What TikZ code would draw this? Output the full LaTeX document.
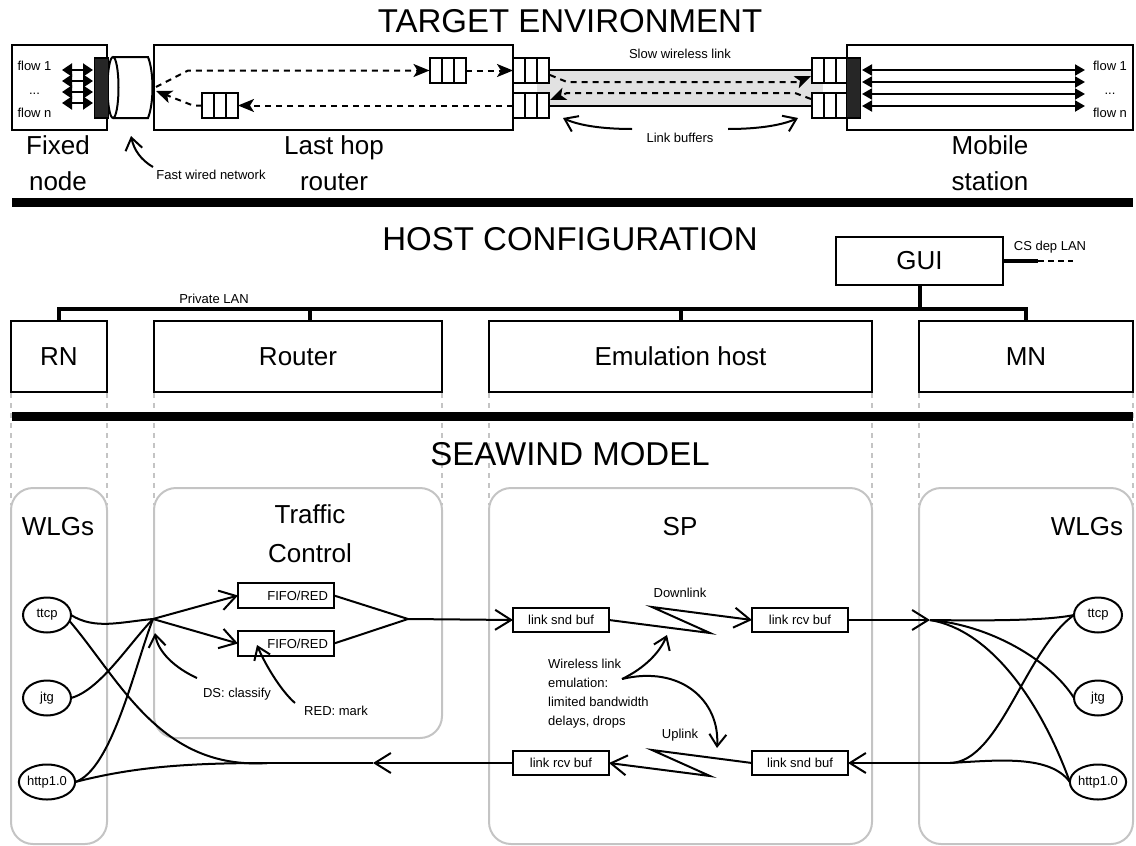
\documentclass[tikz,border=0pt]{standalone}
\usepackage{fontspec}
\setmainfont{Liberation Sans}
\usetikzlibrary{arrows.meta,shapes.geometric}
\newcommand\ftitle{\fontsize{33}{38}\selectfont}
\newcommand\fmid{\fontsize{26}{30}\selectfont}
\newcommand\fsm{\fontsize{13}{16}\selectfont}
\newcommand\qcells[1]{\draw[line width=2pt] ([xshift=12pt]#1.north west) -- ([xshift=12pt]#1.south west) ([xshift=24pt]#1.north west) -- ([xshift=24pt]#1.south west);}
\definecolor{panelgray}{HTML}{C4C4C4}
\definecolor{bandgray}{HTML}{E2E2E2}
\definecolor{darkbar}{HTML}{262626}
\begin{document}
\begin{tikzpicture}[x=1pt,y=-1pt,
  lw/.style={line width=2pt},
  box/.style={draw, line width=2pt, inner sep=0pt, outer sep=0pt, fill=white},
  qbuf/.style={box, minimum width=36pt, minimum height=25pt},
  dbar/.style={draw, line width=1.5pt, fill=darkbar, inner sep=0pt, outer sep=0pt, minimum width=14pt, minimum height=60pt},
  hostbox/.style={box, minimum height=71pt, font=\fmid},
  panel/.style={draw=panelgray, line width=2pt, rounded corners=22pt},
  guide/.style={draw=panelgray, line width=2pt, dash pattern=on 5pt off 5pt},
  dsh/.style={line width=2pt, dash pattern=on 6pt off 5pt},
  tri/.style={line width=2pt, {Triangle[length=10pt,width=13pt]}-{Triangle[length=10pt,width=13pt]}},
  trim/.style={line width=2pt, {Triangle[length=10pt,width=11pt]}-{Triangle[length=10pt,width=11pt]}},
  stl/.style={-{Stealth[length=16pt,width=13pt,inset=4pt]}},
  vee/.style={line width=2pt, -{Straight Barb[length=16pt,width=20pt]}},
  svee/.style={line width=2pt, -{Straight Barb[length=12pt,width=17pt]}},
  sm/.style={font=\fsm, inner sep=0pt},
  md/.style={font=\fmid, inner sep=0pt},
  ttl/.style={font=\ftitle, inner sep=0pt},
  ell/.style={draw, ellipse, line width=2pt, minimum width=48pt, minimum height=35pt, inner sep=0pt, outer sep=0pt, font=\fsm},
  fifo/.style={box, minimum width=96pt, minimum height=25pt, text width=84pt, align=right, font=\fsm},
  lbuf/.style={box, minimum width=96pt, minimum height=24pt, font=\fsm},
]
\useasboundingbox (0,0) rectangle (1136,846);

% ---------------- guides (behind everything)
\foreach \xx in {11,107,154,442,489,872,919,1133} \draw[guide] (\xx,393) -- (\xx,505);

% ---------------- titles
\node[ttl, anchor=base] (t1) at (570,32) {TARGET ENVIRONMENT};
\node[ttl, anchor=base] (t2) at (570,250) {HOST CONFIGURATION};
\node[ttl, anchor=base] (t3) at (570,465) {SEAWIND MODEL};

% ---------------- target environment
\node[box, minimum width=95pt, minimum height=85pt] (fixed) at (59.5,87.5) {};
\node[box, minimum width=359pt, minimum height=85pt] (lhr) at (333.5,87.5) {};
\node[box, minimum width=286pt, minimum height=85pt] (mob) at (990,87.5) {};

\fill[bandgray] (537,70) rectangle (823,106);
\draw[lw] (549,70) -- (812,70) (549,106) -- (812,106);

\node[qbuf] (upq) at (447.5,70.5) {}; \qcells{upq}
\node[qbuf] (loq) at (220,105.5) {}; \qcells{loq}
\node[qbuf] (lb1) at (531,70.5) {}; \qcells{lb1}
\node[qbuf] (lb2) at (531,105.5) {}; \qcells{lb2}
\node[qbuf] (rb1) at (829.5,70.5) {}; \qcells{rb1}
\node[qbuf] (rb2) at (829.5,105.5) {}; \qcells{rb2}

% cylinder (fast wired network)
\draw[lw, fill=white] (113,57) -- (148,57) .. controls (154,72) and (154,103) .. (148,118) -- (113,118);
\draw[lw] (113,87.5) ellipse [x radius=5.5pt, y radius=30.5pt];

\node[dbar] (fbar) at (101.5,88) {};
\node[dbar] (mbar) at (853.5,88) {};

% flows
\foreach \yy in {70,81,92,103} \draw[tri] (62,\yy) -- (93,\yy);
\foreach \yy in {70,82,94,106} \draw[trim] (862,\yy) -- (1085,\yy);
\node[sm, anchor=base] (fl1) at (34.5,70) {flow 1};
\node[sm, anchor=base] (fld) at (34.5,94) {...};
\node[sm, anchor=base] (fln) at (34.5,117) {flow n};
\node[sm, anchor=base] (fr1) at (1110,70) {flow 1};
\node[sm, anchor=base] (frd) at (1110,94) {...};
\node[sm, anchor=base] (frn) at (1110,117) {flow n};

% dashed packet paths
\coordinate (cylR) at (156,87);
\coordinate (bend1) at (188,70.5);
\coordinate (bend2) at (193,105.5);
\coordinate (cylT) at (156,91);
\draw[dsh, stl] (cylR) -- (bend1) -- (upq.west);
\draw[dsh, stl] (upq.east) -- (lb1.west);
\draw[dsh, stl] (lb2.west) -- (loq.east);
\draw[dsh, stl] (loq.west) -- (bend2) -- (cylT);

\coordinate (wa0) at (550,75);
\coordinate (wa1) at (567,82);
\coordinate (wa2) at (797,82);
\coordinate (wa3) at (811,76);
\coordinate (wb0) at (811,99);
\coordinate (wb1) at (795,93);
\coordinate (wb2) at (567,93);
\coordinate (wb3) at (550,100);
\draw[dsh, stl] (wa0) -- (wa1) -- (wa2) -- (wa3);
\draw[dsh, stl] (wb0) -- (wb1) -- (wb2) -- (wb3);

% labels top
\node[sm, anchor=base] (swl) at (680,58) {Slow wireless link};
\node[sm, anchor=base] (lbt) at (680,142) {Link buffers};
\coordinate (lbl0) at (632,129); \coordinate (lbl1) at (563,118);
\coordinate (lbr0) at (728,129); \coordinate (lbr1) at (798,118);
\draw[svee] (lbl0) .. controls (605,129) and (580,126) .. (lbl1);
\draw[svee] (lbr0) .. controls (755,129) and (780,126) .. (lbr1);

\node[sm, anchor=base] (fwn) at (211,179) {Fast wired network};
\coordinate (fw0) at (153,167); \coordinate (fw1) at (131,136);
\draw[svee] (fw0) .. controls (141,160) and (134,150) .. (fw1);

\node[md, anchor=base] (lf1) at (58,154) {Fixed};
\node[md, anchor=base] (lf2) at (58,190) {node};
\node[md, anchor=base] (lr1) at (334,154) {Last hop};
\node[md, anchor=base] (lr2) at (334,190) {router};
\node[md, anchor=base] (lm1) at (990,154) {Mobile};
\node[md, anchor=base] (lm2) at (990,190) {station};

% separators
\draw[line width=9pt] (12,202) -- (1133,202);
\draw[line width=9pt] (12,416.5) -- (1133,416.5);

% ---------------- host configuration
\node[box, minimum width=167pt, minimum height=48pt, font=\fmid] (gui) at (919.5,261) {GUI};
\node[hostbox, minimum width=96pt] (rn) at (59,356.5) {RN};
\node[hostbox, minimum width=288pt] (rtr) at (298,356.5) {Router};
\node[hostbox, minimum width=383pt] (emu) at (680.5,356.5) {Emulation host};
\node[hostbox, minimum width=214pt] (mn) at (1026,356.5) {MN};

\coordinate (busR) at (1026,309);
\draw[line width=4pt] (rn.north) |- (busR) -- (mn.north);
\draw[line width=4pt] ([xshift=12pt]rtr.north) -- ++(0,-12);
\draw[line width=4pt] (emu.north) -- ++(0,-12);
\draw[line width=4pt] (gui.south) -- ++(0,24);
\draw[line width=4pt] (gui.east) -- ++(35,0) coordinate (csj);
\draw[line width=2pt, dash pattern=on 6pt off 4pt] (csj) -- ++(35,0);
\node[sm, anchor=base] (csl) at (1050,250) {CS dep LAN};
\node[sm, anchor=base] (plan) at (214,303) {Private LAN};

% ---------------- seawind model
\draw[panel] (11,488) rectangle (107,844);
\draw[panel] (154,488) rectangle (442,738);
\draw[panel] (489,488) rectangle (872,844);
\draw[panel] (919,488) rectangle (1133,844);

\node[md, anchor=base] (wl1) at (58,535) {WLGs};
\node[md, anchor=base] (wl2) at (1087,535) {WLGs};
\node[md, anchor=base] (tc1) at (310,523) {Traffic};
\node[md, anchor=base] (tc2) at (310,562) {Control};
\node[md, anchor=base] (spt) at (680,535) {SP};

\node[ell] (ttcpL) at (47,615) {ttcp};
\node[ell] (jtgL) at (47,698) {jtg};
\node[ell] (httpL) at (47,782) {http1.0};
\node[ell] (ttcpR) at (1098,615) {ttcp};
\node[ell] (jtgR) at (1098,698) {jtg};
\node[ell] (httpR) at (1098,782) {http1.0};

\node[fifo] (fifoA) at (286,595.5) {FIFO/RED};
\node[fifo] (fifoB) at (286,643.5) {FIFO/RED};

\node[lbuf] (sndU) at (561,620) {link snd buf};
\node[lbuf] (rcvU) at (800,620) {link rcv buf};
\node[lbuf] (rcvL) at (561,763) {link rcv buf};
\node[lbuf] (sndL) at (800,763) {link snd buf};

\coordinate (split) at (153,619);
\coordinate (merge) at (408,619);
\coordinate (retA) at (373,763);
\coordinate (retS) at (267,763);
\coordinate (rsplit) at (930,620);
\coordinate (rmerge) at (950,763);
\coordinate (dz1) at (710,633);
\coordinate (dz2) at (652,607);
\coordinate (uz1) at (652,750);
\coordinate (uz2) at (710,776);

\draw[lw] (ttcpL.east) .. controls (95,630) and (120,622) .. (split);
\draw[lw] (jtgL.east) .. controls (100,690) and (128,645) .. (split);
\draw[lw] (httpL.east) .. controls (112,770) and (135,665) .. (split);
\draw[vee] (split) -- (fifoA.west);
\draw[vee] (split) -- (fifoB.west);
\draw[lw] (fifoA.east) -- (merge) -- (fifoB.east);
\draw[vee] (merge) -- (sndU.west);
\draw[vee] (sndU.east) -- (dz1) -- (dz2) -- (rcvU.west);
\draw[vee] (rcvU.east) -- (rsplit);
\draw[lw] (rsplit) .. controls (1000,621) and (1050,620) .. (ttcpR.west);
\draw[lw] (rsplit) .. controls (990,625) and (1050,660) .. (jtgR.west);
\draw[lw] (rsplit) .. controls (990,630) and (1040,700) .. (httpR.west);
\draw[lw] (ttcpR.west) .. controls (1025,650) and (1000,762) .. (rmerge);
\draw[lw] (httpR.west) .. controls (1050,755) and (1000,760) .. (rmerge);
\draw[vee] (rmerge) -- (sndL.east);
\draw[vee] (sndL.west) -- (uz1) -- (uz2) -- (rcvL.east);
\draw[vee] (rcvL.west) -- (retA);
\draw[lw] (retA) -- (retS);
\draw[lw] (retS) .. controls (160,770) and (120,680) .. (ttcpL.-15);
\draw[lw] (retS) .. controls (180,763) and (130,768) .. (httpL.east);

\node[sm, anchor=base] (dsc) at (237,697) {DS: classify};
\node[sm, anchor=base] (redm) at (336,715) {RED: mark};
\coordinate (ds0) at (197,678); \coordinate (ds1) at (155,633);
\coordinate (rm0) at (295,703); \coordinate (rm1) at (257,645);
\draw[svee] (ds0) .. controls (175,668) and (158,652) .. (ds1);
\draw[svee] (rm0) .. controls (280,690) and (264,662) .. (rm1);

\node[sm, anchor=base] (dlk) at (680,597) {Downlink};
\node[sm, anchor=base] (ulk) at (680,738) {Uplink};
\node[sm, anchor=base west] (we1) at (548,668) {Wireless link};
\node[sm, anchor=base west] (we2) at (548,687) {emulation:};
\node[sm, anchor=base west] (we3) at (548,706) {limited bandwidth};
\node[sm, anchor=base west] (we4) at (548,725) {delays, drops};
\coordinate (wl) at (622,679);
\coordinate (wlu) at (667,635);
\coordinate (wld) at (717,748);
\draw[svee] (wl) .. controls (645,668) and (660,652) .. (wlu);
\draw[svee] (wl) .. controls (680,665) and (720,700) .. (wld);
\end{tikzpicture}
\end{document}
